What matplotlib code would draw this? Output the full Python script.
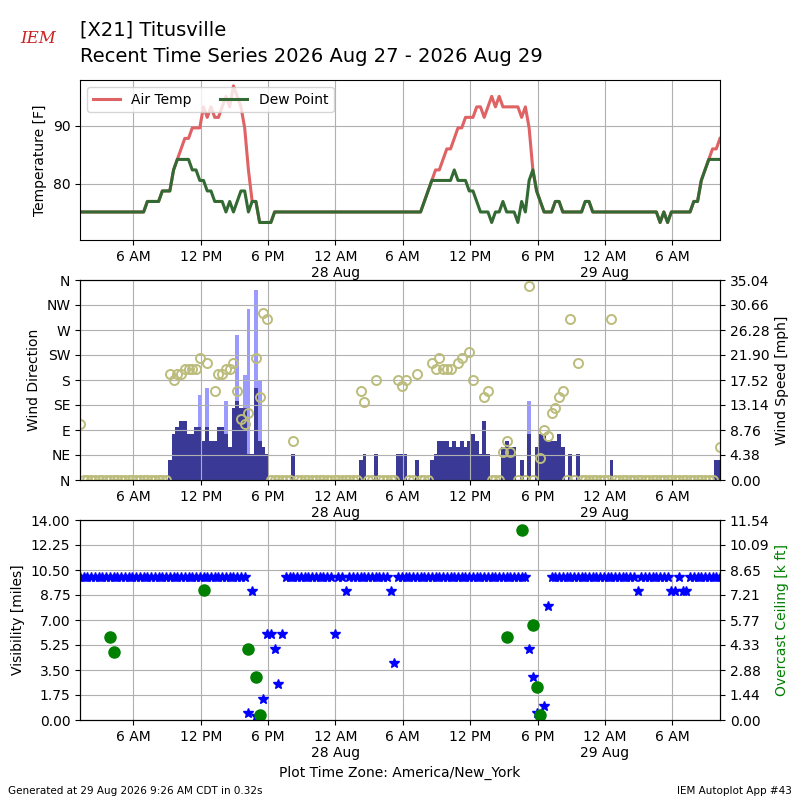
import datetime
import numpy as np
import matplotlib
matplotlib.use("Agg")
import matplotlib.pyplot as plt
import matplotlib.dates as mdates
from matplotlib.ticker import FixedLocator, FuncFormatter

nan = np.nan

# observations every 20 minutes starting 27 Aug 2026 01:15 (America/New_York)
start = datetime.datetime(2026, 8, 27, 1, 15)
step_min = 20

# 12 obs per row (4 hours)
tmpf = [
    75.2, 75.2, 75.2, 75.2, 75.2, 75.2, 75.2, 75.2, 75.2, 75.2, 75.2, 75.2,
    75.2, 75.2, 75.2, 75.2, 75.2, 75.2, 77, 77, 77, 77, 78.8, 78.8,
    78.8, 82.4, 84.2, 86, 87.8, 87.8, 89.6, 89.6, 89.6, 93.2, 91.4, 93.2,
    91.4, 91.4, 93.2, 95, 93.2, 96.8, 95, 93.2, 89.6, 82.4, 77, 77,
    73.4, 73.4, 73.4, 73.4, 75.2, 75.2, 75.2, 75.2, 75.2, 75.2, 75.2, 75.2,
    75.2, 75.2, 75.2, 75.2, 75.2, 75.2, 75.2, 75.2, 75.2, 75.2, 75.2, 75.2,
    75.2, 75.2, 75.2, 75.2, 75.2, 75.2, 75.2, 75.2, 75.2, 75.2, 75.2, 75.2,
    75.2, 75.2, 75.2, 75.2, 75.2, 75.2, 75.2, 75.2, 77, 78.8, 80.6, 82.4,
    82.4, 84.2, 86, 86, 87.8, 89.6, 89.6, 91.4, 91.4, 91.4, 93.2, 93.2,
    91.4, 93.2, 95, 93.2, 95, 93.2, 93.2, 93.2, 93.2, 93.2, 91.4, 93.2,
    89.6, 82.4, 78.8, 77, 75.2, 75.2, 75.2, 77, 77, 75.2, 75.2, 75.2,
    75.2, 75.2, 75.2, 77, 77, 75.2, 75.2, 75.2, 75.2, 75.2, 75.2, 75.2,
    75.2, 75.2, 75.2, 75.2, 75.2, 75.2, 75.2, 75.2, 75.2, 75.2, 75.2, 73.4,
    75.2, 73.4, 75.2, 75.2, 75.2, 75.2, 75.2, 75.2, 77, 77, 80.6, 82.4,
    84.2, 86, 86, 87.8,
]
dwpf = [
    75.2, 75.2, 75.2, 75.2, 75.2, 75.2, 75.2, 75.2, 75.2, 75.2, 75.2, 75.2,
    75.2, 75.2, 75.2, 75.2, 75.2, 75.2, 77, 77, 77, 77, 78.8, 78.8,
    78.8, 82.4, 84.2, 84.2, 84.2, 84.2, 82.4, 82.4, 80.6, 80.6, 78.8, 78.8,
    77, 77, 77, 75.2, 77, 75.2, 77, 78.8, 78.8, 75.2, 77, 77,
    73.4, 73.4, 73.4, 73.4, 75.2, 75.2, 75.2, 75.2, 75.2, 75.2, 75.2, 75.2,
    75.2, 75.2, 75.2, 75.2, 75.2, 75.2, 75.2, 75.2, 75.2, 75.2, 75.2, 75.2,
    75.2, 75.2, 75.2, 75.2, 75.2, 75.2, 75.2, 75.2, 75.2, 75.2, 75.2, 75.2,
    75.2, 75.2, 75.2, 75.2, 75.2, 75.2, 75.2, 75.2, 77, 78.8, 80.6, 80.6,
    80.6, 80.6, 80.6, 80.6, 82.4, 80.6, 80.6, 80.6, 78.8, 78.8, 77, 75.2,
    75.2, 75.2, 73.4, 75.2, 75.2, 77, 75.2, 75.2, 75.2, 73.4, 77, 75.2,
    80.6, 82.4, 78.8, 77, 75.2, 75.2, 75.2, 77, 77, 75.2, 75.2, 75.2,
    75.2, 75.2, 75.2, 77, 77, 75.2, 75.2, 75.2, 75.2, 75.2, 75.2, 75.2,
    75.2, 75.2, 75.2, 75.2, 75.2, 75.2, 75.2, 75.2, 75.2, 75.2, 75.2, 73.4,
    75.2, 73.4, 75.2, 75.2, 75.2, 75.2, 75.2, 75.2, 77, 77, 80.6, 82.4,
    84.2, 84.2, 84.2, 84.2,
]
sped = [  # mph
    0, 0, 0, 0, 0, 0, 0, 0, 0, 0, 0, 0,
    0, 0, 0, 0, 0, 0, 0, 0, 0, 0, 0, 0,
    3.45, 8.06, 9.2, 10.36, 10.36, 8.06, 8.06, 9.2, 9.2, 6.9, 9.2, 6.9,
    6.9, 9.2, 9.2, 8.06, 5.75, 12.66, 13.8, 12.66, 12.66, 4.6, 4.6, 16.06,
    6.9, 5.75, 4.6, 0, 0, 0, 0, 0, 0, 4.6, 0, 0,
    0, 0, 0, 0, 0, 0, 0, 0, 0, 0, 0, 0,
    0, 0, 0, 3.45, 4.6, 0, 0, 4.6, 0, 0, 0, 0,
    0, 4.6, 4.6, 4.6, 0, 0, 3.45, 0, 0, 0, 3.45, 4.6,
    6.9, 6.9, 6.9, 5.75, 6.9, 5.75, 6.9, 5.75, 6.9, 8.06, 6.9, 4.6,
    10.36, 4.6, 0, 0, 0, 5.75, 6.9, 5.75, 5.75, 0, 3.45, 0,
    8.06, 0, 5.75, 8.06, 8.06, 6.9, 6.9, 6.9, 8.06, 5.75, 0, 4.6,
    0, 4.6, 0, 0, 0, 0, 0, 0, 0, 0, 3.45, 0,
    0, 0, 0, 0, 0, 0, 0, 0, 0, 0, 0, 0,
    0, 0, 0, 0, 0, 0, 0, 0, 0, 0, 0, 0,
    0, 0, 3.45, 3.45,
]
drct = [
    100, 0, 0, 0, 0, 0, 0, 0, 0, 0, 0, 0,
    0, 0, 0, 0, 0, 0, 0, 0, 0, 0, 0, 0,
    190, 180, 190, 190, 200, 200, 200, 200, 220, nan, 210, nan,
    160, 190, 190, 200, 200, 210, 160, 110, 100, 120, nan, 220,
    150, 300, 290, 0, 0, 0, 0, 0, 0, 70, 0, 0,
    0, 0, 0, 0, 0, 0, 0, 0, 0, 0, 0, 0,
    0, 0, 0, 160, 140, 0, 0, 180, 0, 0, 0, 0,
    0, 180, 170, 180, 0, 0, 190, 0, 0, 0, 210, 200,
    220, 200, 200, 200, nan, 210, 220, nan, 230, 180, nan, nan,
    150, 160, 0, 0, 0, 50, 70, 50, nan, 0, nan, 0,
    350, 0, nan, 40, 90, 80, 120, 130, 150, 160, 0, 290,
    0, 210, 0, 0, 0, 0, 0, 0, 0, 0, 290, 0,
    0, 0, 0, 0, 0, 0, 0, 0, 0, 0, 0, 0,
    0, 0, 0, 0, 0, 0, 0, 0, 0, 0, 0, 0,
    0, 0, nan, 60,
]
gust_obs = [32, 34, 39, 42, 44, 45, 47, 48, 120]
gust_mph = [14.96, 16.11, 13.81, 25.32, 18.41, 29.92, 33.37, 17.26, 13.81]
vsby = [
    10, 10, 10, 10, 10, 10, 10, 10, 10, 10, 10, 10,
    10, 10, 10, 10, 10, 10, 10, 10, 10, 10, 10, 10,
    10, 10, 10, 10, 10, 10, 10, 10, 10, 10, 10, 10,
    10, 10, 10, 10, 10, 10, 10, 10, 10, 0.5, 9, 0.25,
    0.25, 1.5, 6, 6, 5, 2.5, 6, 10, 10, 10, 10, 10,
    10, 10, 10, 10, 10, 10, 10, 10, 6, 10, 10, 9,
    10, 10, 10, 10, 10, 10, 10, 10, 10, 10, 10, 9,
    4, 10, 10, 10, 10, 10, 10, 10, 10, 10, 10, 10,
    10, 10, 10, 10, 10, 10, 10, 10, 10, 10, 10, 10,
    10, 10, 10, 10, 10, 10, 10, 10, 10, 10, 10, 10,
    5, 3, 0.5, 0.25, 1, 8, 10, 10, 10, 10, 10, 10,
    10, 10, 10, 10, 10, 10, 10, 10, 10, 10, 10, 10,
    10, 10, 10, 10, 10, 9, 10, 10, 10, 10, 10, 10,
    10, 10, 9, 9, 10, 9, 9, 10, 10, 10, 10, 10,
    10, 10, 10, 10,
]
ceil_obs = [8, 9, 33, 45, 47, 48, 114, 118, 121, 122, 123]
ceil_kft = [4.8, 3.9, 7.5, 4.1, 2.5, 0.3, 4.8, 10.986, 5.5, 1.9, 0.3]

times = [start + datetime.timedelta(minutes=step_min * i) for i in range(len(tmpf))]
gust_times = [times[i] for i in gust_obs]
ceil_times = [times[i] for i in ceil_obs]
bar_w = step_min / 1440.0


def timefmt(x, pos=None):
    dt = mdates.num2date(x)
    lbl = dt.strftime("%I %p").lstrip("0")
    if dt.hour == 0:
        lbl += "\n" + dt.strftime("%d %b")
    return lbl


def setup_x(ax):
    ax.xaxis.set_major_locator(mdates.HourLocator(byhour=[0, 6, 12, 18]))
    ax.xaxis.set_major_formatter(FuncFormatter(timefmt))
    ax.set_xlim(times[0], times[-1])
    ax.grid(True)


fig = plt.figure(figsize=(8, 8), dpi=100)

# temperature
ax1 = fig.add_axes([0.1, 0.7, 0.8, 0.2])
ax1.plot(times, tmpf, color="#df6264", lw=2.2, label="Air Temp")
ax1.plot(times, dwpf, color="#336a33", lw=2.2, label="Dew Point")
ax1.set_ylim(min(dwpf) - 3, max(tmpf) + 1)
ax1.yaxis.set_major_locator(FixedLocator([80, 90]))
ax1.set_ylabel("Temperature [F]")
ax1.legend(loc=2, ncol=2)
setup_x(ax1)

# wind
ax2 = fig.add_axes([0.1, 0.4, 0.8, 0.25])
ax2b = ax2.twinx()
ax2b.bar(gust_times, gust_mph, width=bar_w, color="#9a9aff")
ax2b.bar(times, sped, width=bar_w, color="#3a3a96")
top = max(gust_mph) * 1.05
ax2b.set_ylim(0, top)
ax2b.set_yticks(np.linspace(0, top, 9))
ax2b.yaxis.set_major_formatter(FuncFormatter(lambda v, p: "%.2f" % v))
ax2b.set_ylabel("Wind Speed [mph]")
ax2.set_zorder(ax2b.get_zorder() + 1)
ax2.patch.set_visible(False)
ax2.plot(times, drct, "o", mfc="none", mec="#bcbc7c", ms=6.5, mew=1.4)
ax2.set_ylim(0, 360)
ax2.set_yticks(range(0, 361, 45))
ax2.set_yticklabels(["N", "NE", "E", "SE", "S", "SW", "W", "NW", "N"])
ax2.set_ylabel("Wind Direction")
setup_x(ax2)

# visibility / ceiling
ax3 = fig.add_axes([0.1, 0.1, 0.8, 0.25])
ax3.plot(times, vsby, "*", color="b", ms=7)
ax3.set_ylim(0, 14)
ax3.set_yticks(np.linspace(0, 14, 9))
ax3.yaxis.set_major_formatter(FuncFormatter(lambda v, p: "%.2f" % v))
ax3.set_ylabel("Visibility [miles]")
ax3.set_xlabel("Plot Time Zone: America/New_York")
setup_x(ax3)
ax3b = ax3.twinx()
ax3b.plot(ceil_times, ceil_kft, "o", color="g", ms=8)
ctop = max(ceil_kft) * 1.05
ax3b.set_ylim(0, ctop)
ax3b.set_yticks(np.linspace(0, ctop, 9))
ax3b.yaxis.set_major_formatter(FuncFormatter(lambda v, p: "%.2f" % v))
ax3b.set_ylabel("Overcast Ceiling [k ft]", color="g")
ax3b.set_xlim(times[0], times[-1])

fig.text(0.1, 0.962, "[X21] Titusville", fontsize=14, va="center")
fig.text(0.1, 0.93, "Recent Time Series 2026 Aug 27 - 2026 Aug 29", fontsize=14, va="center")
fig.text(0.048, 0.952, "IEM", fontsize=12, color="#cc2222", family="serif",
         style="italic", ha="center", va="center")
fig.text(0.01, 0.008, "Generated at 29 Aug 2026 9:26 AM CDT in 0.32s", fontsize=7.5)
fig.text(0.99, 0.008, "IEM Autoplot App #43", fontsize=7.5, ha="right")

fig.savefig("out.png", dpi=100)
